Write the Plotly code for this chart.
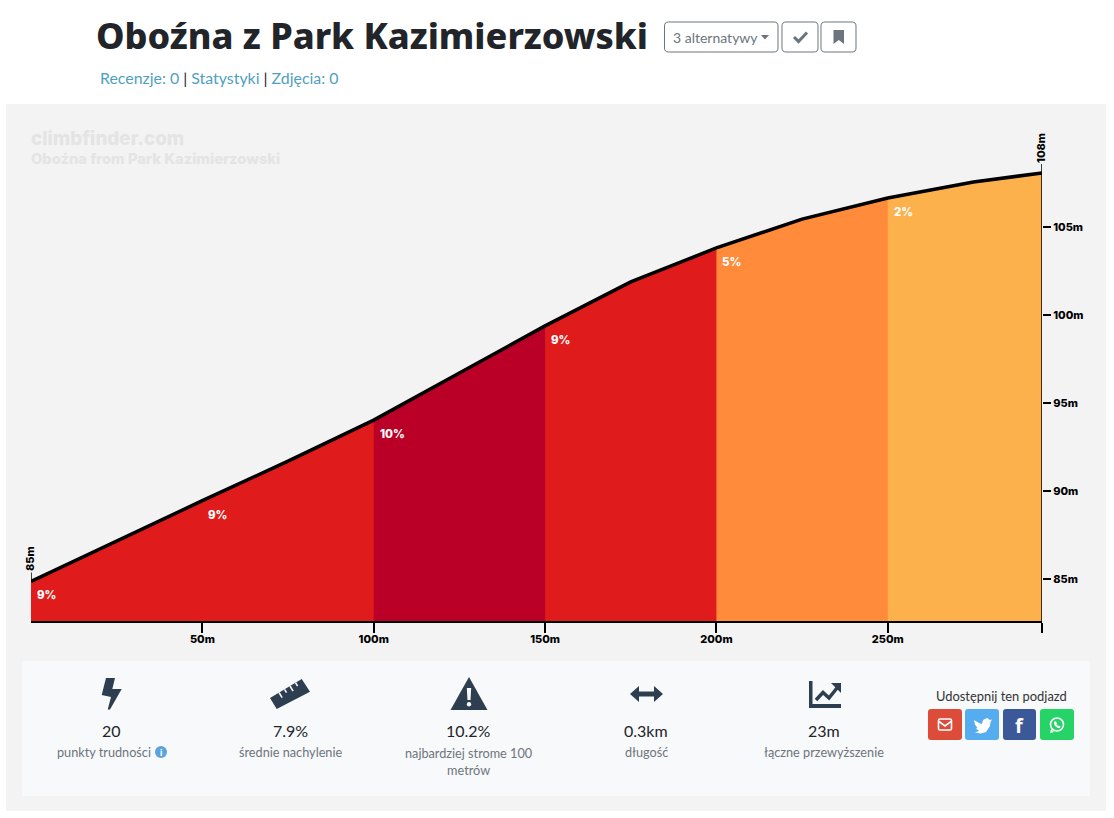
"""
Oboźna z Park Kazimierzowski - climb profile (climbfinder style page)
"""

import plotly.graph_objects as go


W = 1114
H = 818

# profile
distance = [0, 25, 50, 75, 100, 125, 150, 175, 200, 225, 250, 275, 295]
elevation = [84.86, 87.16, 89.45, 91.70, 94.03, 96.70, 99.38, 101.88, 103.81, 105.45, 106.65, 107.56, 108.07]

# gradient segments
seg_start = [0, 50, 100, 150, 200, 250]
seg_label = ['9%', '9%', '10%', '9%', '5%', '2%']
seg_color = ['#e01b1b', '#e01b1b', '#bb0027', '#e01b1b', '#ff8b3b', '#fdb14d']

# axes
x_ticks = [50, 100, 150, 200, 250, 295]
x_labels = ['50m', '100m', '150m', '200m', '250m', '']
y_ticks = [85, 90, 95, 100, 105]
y_labels = ['85m', '90m', '95m', '100m', '105m']

# stats row
stat_center = [111, 290, 468, 646, 824]
stat_value = ['20', '7.9%', '10.2%', '0.3km', '23m']
stat_caption = ['punkty trudności', 'średnie nachylenie', 'najbardziej strome 100<br>metrów', 'długość', 'łączne przewyższenie']

ICON = '#2c3e50'
PANEL = '#f3f3f3'
INNER = '#f8f9fa'
GREY = '#6c757d'
LABEL_FONT = 'Inter'


def px(x):
    return x / W


def py(y):
    return 1 - y / H


def poly(points):
    parts = [f'{px(x):.5f},{py(y):.5f}' for x, y in points]
    return 'M' + ' L'.join(parts) + ' Z'


def round_rect(x0, y0, x1, y1, r):
    return (
        f'M{px(x0 + r):.5f},{py(y0):.5f} L{px(x1 - r):.5f},{py(y0):.5f} '
        f'Q{px(x1):.5f},{py(y0):.5f} {px(x1):.5f},{py(y0 + r):.5f} '
        f'L{px(x1):.5f},{py(y1 - r):.5f} '
        f'Q{px(x1):.5f},{py(y1):.5f} {px(x1 - r):.5f},{py(y1):.5f} '
        f'L{px(x0 + r):.5f},{py(y1):.5f} '
        f'Q{px(x0):.5f},{py(y1):.5f} {px(x0):.5f},{py(y1 - r):.5f} '
        f'L{px(x0):.5f},{py(y0 + r):.5f} '
        f'Q{px(x0):.5f},{py(y0):.5f} {px(x0 + r):.5f},{py(y0):.5f} Z'
    )


def fill_shape(path, color, layer='above'):
    return dict(type='path', path=path, xref='paper', yref='paper',
                fillcolor=color, line=dict(width=0), layer=layer)


def stroke_shape(points, color, width):
    parts = [f'{px(x):.5f},{py(y):.5f}' for x, y in points]
    return dict(type='path', path='M' + ' L'.join(parts), xref='paper', yref='paper',
                line=dict(color=color, width=width), layer='above')


def box_shape(x0, y0, x1, y1, border=GREY):
    return dict(type='path', path=round_rect(x0, y0, x1, y1, 4), xref='paper', yref='paper',
                fillcolor='white', line=dict(color=border, width=1), layer='above')


def circle(x0, y0, x1, y1, color, line_color=None, width=0):
    return dict(type='circle', x0=px(x0), x1=px(x1), y0=py(y0), y1=py(y1), xref='paper', yref='paper',
                fillcolor=color, line=dict(color=line_color or color, width=width), layer='above')


def text(x, y, s, size, color, family='Lato', anchor='center', weight=None):
    return dict(x=px(x), y=py(y), xref='paper', yref='paper', text=s, showarrow=False,
                xanchor=anchor, yanchor='middle', align='center' if anchor == 'center' else 'left',
                font=dict(family=family, size=size, color=color, weight=weight))


fig = go.Figure()

# 구간별 면적 (다음 구간이 위를 덮어서 경계 틈이 안 생김)
for s, c in zip(seg_start, seg_color):
    xs = [d for d in distance if d >= s]
    ys = [v for d, v in zip(distance, elevation) if d >= s]
    fig.add_trace(go.Scatter(x=xs, y=ys, mode='none', fill='tozeroy', fillcolor=c, hoverinfo='skip'))

fig.add_trace(go.Scatter(x=distance, y=elevation, mode='lines',
                         line=dict(color='black', width=3.5), cliponaxis=False, hoverinfo='skip'))

shapes = [
    fill_shape(poly([(6, 104), (1106, 104), (1106, 811), (6, 811)]), PANEL, 'below'),
    # end ticks above the profile
    dict(type='line', xref='x', yref='y', x0=distance[0], x1=distance[0], ysizemode='pixel',
         yanchor=elevation[0], y0=0, y1=9, line=dict(color='black', width=1.5), layer='above'),
    dict(type='line', xref='x', yref='y', x0=distance[-1], x1=distance[-1], ysizemode='pixel',
         yanchor=elevation[-1], y0=0, y1=9, line=dict(color='black', width=1.5), layer='above'),
    fill_shape(poly([(22, 661), (1090, 661), (1090, 796), (22, 796)]), INNER),
    # header buttons
    box_shape(664.5, 22, 778, 52),
    fill_shape(poly([(761, 35), (769, 35), (765, 39.5)]), GREY),
    box_shape(782, 22, 818, 52),
    stroke_shape([(794, 37), (798.5, 41.5), (807, 32.5)], GREY, 3),
    box_shape(821, 22, 856, 52),
    fill_shape(poly([(833.5, 30), (844, 30), (844, 44), (838.8, 40), (833.5, 44)]), GREY),
    # bolt
    fill_shape(poly([(106, 678), (115, 678), (112.3, 689), (121.7, 689), (110, 709.5),
                     (107.7, 709.5), (111, 697), (101.7, 695)]), ICON),
    # ruler
    fill_shape(poly([(270, 698), (301.7, 679), (310, 691.7), (276.7, 709)]), ICON),
    # warning
    fill_shape(poly([(469, 677), (487.5, 710), (450.5, 710)]), ICON),
    fill_shape(poly([(466.8, 688), (471.2, 688), (470.5, 700), (467.5, 700)]), INNER),
    circle(466.8, 702, 471.2, 706.4, INNER),
    # arrows
    fill_shape(poly([(630, 694), (639, 686), (639, 691.5), (654, 691.5), (654, 686), (663, 694),
                     (654, 702), (654, 696.5), (639, 696.5), (639, 702)]), ICON),
    # area chart icon
    fill_shape(poly([(809, 681), (812.5, 681), (812.5, 704), (841, 704), (841, 708), (809, 708)]), ICON),
    stroke_shape([(816, 700), (823, 692.5), (829, 698), (837, 688)], ICON, 3.5),
    fill_shape(poly([(831, 683), (841, 683), (841, 693)]), ICON),
    # info badge
    circle(155, 746, 167, 758, '#5ba4db'),
    # share buttons
    fill_shape(round_rect(928, 709, 962, 740, 3), '#dd4b39'),
    fill_shape(round_rect(965, 709, 999, 740, 3), '#55acee'),
    fill_shape(round_rect(1003, 709, 1036, 740, 3), '#3b5998'),
    fill_shape(round_rect(1040, 709, 1074, 740, 3), '#25d366'),
    # envelope
    dict(type='path', path=round_rect(938.5, 719, 951.5, 730, 1.5), xref='paper', yref='paper',
         fillcolor='rgba(0,0,0,0)', line=dict(color='white', width=1.6), layer='above'),
    stroke_shape([(939, 721.5), (945, 726), (951, 721.5)], 'white', 1.6),
    # twitter bird (rough)
    fill_shape(poly([(974, 720), (979, 723), (982, 724), (983, 720), (987, 718), (990, 720), (992, 719.5),
                     (990.5, 722), (990, 726), (986, 732), (981, 733.5), (975, 732.5), (979, 731),
                     (976, 728.5), (977.5, 728), (975, 724.5)]), 'white'),
    # whatsapp
    circle(1050.5, 718, 1063.5, 731, 'rgba(0,0,0,0)', 'white', 1.6),
    fill_shape(poly([(1051, 729), (1050, 733), (1054, 732)]), 'white'),
    fill_shape(poly([(1054, 721.5), (1056, 721.5), (1057, 723.5), (1056.5, 724.5), (1058, 726),
                     (1059, 725.5), (1060.5, 726.5), (1060, 728), (1058, 728), (1055, 726), (1054, 723.5)]),
               'white'),
]

# ruler notches
for i, (nx, ny) in enumerate([(279, 692.5), (284.5, 689.3), (290, 686), (295.5, 682.7)]):
    size = 6 if i % 2 == 0 else 4
    shapes.append(stroke_shape([(nx, ny), (nx + size * 0.52, ny + size * 0.85)], INNER, 1.6))

annotations = [
    text(94, 36, 'Oboźna z Park Kazimierzowski', 36, '#212529', 'Noto Sans', 'left', 800),
    text(98, 77, "<span style='color:#4f9fc0'>Recenzje: 0</span> | "
                 "<span style='color:#4f9fc0'>Statystyki</span> | "
                 "<span style='color:#4f9fc0'>Zdjęcia: 0</span>", 15.9, '#212529', 'Lato', 'left'),
    text(671, 37, '3 alternatywy', 14, GREY, 'Lato', 'left'),
    # watermark
    text(29, 139, 'climbfinder.com', 18.8, '#e4e4e4', 'Inter', 'left', 800),
    text(29, 159.5, 'Oboźna from Park Kazimierzowski', 14.7, '#e4e4e4', 'Inter', 'left', 800),
    text(1001, 696, 'Udostępnij ten podjazd', 12.9, '#333333'),
    text(1019.5, 725, 'f', 20, 'white', 'Open Sans', 'center', 700),
    text(161, 752, 'i', 9, 'white', 'Lato', 'center', 900),
]

# stats
for c, v, cap in zip(stat_center, stat_value, stat_caption):
    annotations.append(text(c, 730.5, v, 16, '#212529'))
    if cap.endswith('trudności'):
        annotations.append(text(c - 7, 752, cap, 12.7, GREY))
    elif '<br>' in cap:
        annotations.append(text(c, 761.5, cap, 12.7, GREY))
    else:
        annotations.append(text(c, 752, cap, 12.7, GREY))

# 구간 라벨
for s, lab in zip(seg_start, seg_label):
    annotations.append(dict(
        x=s, y=elevation[distance.index(s)], xref='x', yref='y', text=lab, showarrow=False,
        xanchor='left', yanchor='middle', xshift=4, yshift=-14,
        font=dict(family=LABEL_FONT, size=11.5, color='white', weight=800),
    ))

# start/end heights
for d, v, lab in [(distance[0], elevation[0], '85m'), (distance[-1], elevation[-1], '108m')]:
    annotations.append(dict(
        x=d, y=v, xref='x', yref='y', text=lab, showarrow=False, textangle=-90,
        xanchor='center', yanchor='bottom', yshift=8, xshift=-1,
        font=dict(family=LABEL_FONT, size=11, color='black', weight=800),
    ))

# y축: 85m=579px, 105m=227px / 하단 621px
y_per_px = (105 - 85) / (579 - 227)
y_bottom = 85 - (621 - 579) * y_per_px
y_top = 85 + (579 - 120) * y_per_px

fig.update_layout(
    width=W,
    height=H,
    margin=dict(l=0, r=0, t=0, b=0),
    paper_bgcolor='white',
    plot_bgcolor=PANEL,
    showlegend=False,
    shapes=shapes,
    annotations=annotations,
    hovermode=False,
    xaxis=dict(
        domain=[px(31), px(1042)],
        range=[0, 295],
        tickvals=x_ticks,
        ticktext=x_labels,
        ticks='outside',
        ticklen=10,
        tickwidth=1.5,
        tickcolor='black',
        ticklabelstandoff=-3,
        showline=True,
        linecolor='black',
        linewidth=1.5,
        showgrid=False,
        zeroline=False,
        tickfont=dict(family=LABEL_FONT, size=11, color='black', weight=800),
        anchor='y',
    ),
    yaxis=dict(
        domain=[py(621), py(120)],
        range=[y_bottom, y_top],
        side='right',
        tickvals=y_ticks,
        ticktext=y_labels,
        ticks='outside',
        ticklen=8,
        tickwidth=1.5,
        tickcolor='black',
        showgrid=False,
        zeroline=False,
        tickfont=dict(family=LABEL_FONT, size=11, color='black', weight=800),
        anchor='x',
    ),
)

# 오른쪽 세로선은 끝점부터 x축까지만
fig.add_shape(type='line', xref='x', yref='y', x0=295, x1=295, y0=y_bottom, y1=elevation[-1],
              line=dict(color='black', width=1.5), layer='above')

fig.write_html("out.html", config=dict(displayModeBar=False),
               post_script="document.body.style.margin='0';")
